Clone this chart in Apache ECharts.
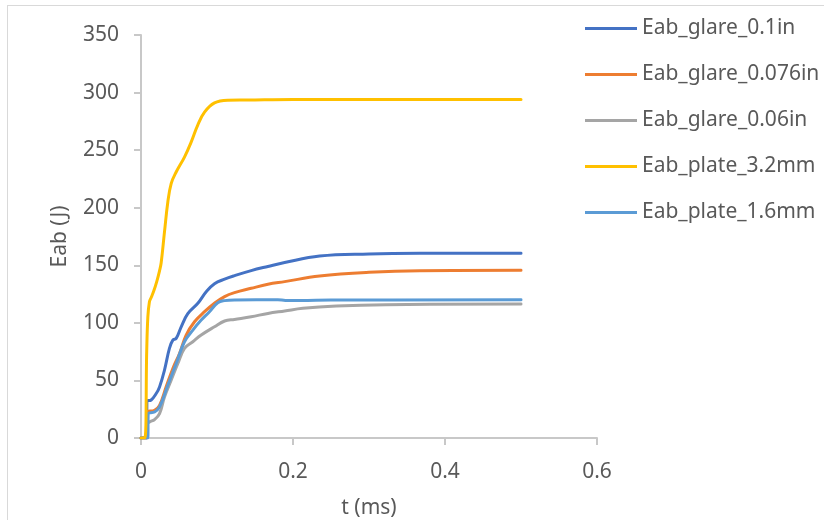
<!DOCTYPE html>
<html>
<head>
<meta charset="utf-8">
<script src="https://cdn.jsdelivr.net/npm/echarts@6/dist/echarts.min.js"></script>
<style>
  html, body { margin: 0; padding: 0; background: #fff; overflow: hidden; }
  #frame { position: absolute; left: 7px; top: 5px; width: 1000px; height: 1000px; border: 1px solid #D9D9D9; box-sizing: border-box; }
  #chart { position: absolute; left: 0; top: 0; width: 824px; height: 520px; }
</style>
</head>
<body>
<div id="frame"></div>
<div id="chart"></div>
<script>
// Series names
const seriesNames = ['Eab_glare_0.1in', 'Eab_glare_0.076in', 'Eab_glare_0.06in', 'Eab_plate_3.2mm', 'Eab_plate_1.6mm'];

// Eab_glare_0.1in : time (ms) and Eab (J)
const tGlare01 = [0, 0.0075, 0.0078, 0.0134, 0.020, 0.0244, 0.0309, 0.0375, 0.0419, 0.0463, 0.0529, 0.0616, 0.0748, 0.0858, 0.0967, 0.110, 0.123, 0.145, 0.167, 0.189, 0.235, 0.30, 0.367, 0.5];
const eGlare01 = [0, 0, 32, 33, 38.6, 44.4, 59, 78, 85, 86.5, 96.6, 108, 117, 127, 134, 138, 141, 145.4, 149, 152.4, 158, 159.8, 160.4, 160.5];

// Eab_glare_0.076in
const tGlare076 = [0, 0.0075, 0.0078, 0.0178, 0.0244, 0.0331, 0.0419, 0.0507, 0.0594, 0.0704, 0.0836, 0.0967, 0.110, 0.123, 0.145, 0.167, 0.189, 0.235, 0.30, 0.367, 0.5];
const eGlare076 = [0, 0, 22.6, 24.1, 28.4, 44.4, 60.4, 73.4, 89.4, 101, 109.7, 117, 122.8, 126.2, 130, 133.5, 135.8, 140.7, 143.9, 145.3, 145.6];

// Eab_glare_0.06in
const tGlare006 = [0, 0.0078, 0.0085, 0.0112, 0.0178, 0.0244, 0.0309, 0.0397, 0.0485, 0.0572, 0.0682, 0.0792, 0.0967, 0.110, 0.123, 0.145, 0.167, 0.189, 0.213, 0.257, 0.322, 0.5];
const eGlare006 = [0, 0, 12, 13.9, 16, 21.2, 35.7, 50.2, 64.7, 77.8, 83.6, 89.4, 96.6, 101.6, 103, 105.3, 108.2, 110.3, 112.6, 114.6, 115.8, 116.4];

// Eab_plate_3.2mm
const tPlate32 = [0, 0.005, 0.0075, 0.009, 0.011, 0.0134, 0.017, 0.0208, 0.0243, 0.0265, 0.0309, 0.0353, 0.0397, 0.0463, 0.0572, 0.066, 0.0748, 0.0836, 0.0967, 0.114, 0.14, 0.2, 0.3, 0.4, 0.5];
const ePlate32 = [0, 0, 75, 105, 118, 122, 128, 136, 145, 152, 179, 205, 221, 231, 244, 257, 272, 283, 291, 293.3, 293.5, 294, 294, 294, 294];

// Eab_plate_1.6mm
const tPlate16 = [0, 0.009, 0.0095, 0.0178, 0.0244, 0.0353, 0.0463, 0.0572, 0.0682, 0.0792, 0.0901, 0.101, 0.110, 0.123, 0.18, 0.19, 0.21, 0.25, 0.5];
const ePlate16 = [0, 0, 21.2, 22.6, 27, 45.9, 64.7, 83.6, 93.7, 102.4, 109.7, 117.5, 119.3, 119.9, 120, 119.5, 119.4, 119.9, 120];

// Axis ticks
const xTicks = [0, 0.2, 0.4, 0.6];
const yTicks = [0, 50, 100, 150, 200, 250, 300, 350];

const colors = ['#4472C4', '#ED7D31', '#A5A5A5', '#FFC000', '#5B9BD5'];
const tList = [tGlare01, tGlare076, tGlare006, tPlate32, tPlate16];
const eList = [eGlare01, eGlare076, eGlare006, ePlate32, ePlate16];

const FONT = 'Noto Sans';
const chart = echarts.init(document.getElementById('chart'), null, { renderer: 'canvas' });

const series = seriesNames.map((name, i) => ({
  name: name,
  type: 'line',
  data: tList[i].map((t, j) => [t, eList[i][j]]),
  showSymbol: false,
  symbol: 'none',
  smooth: 0.4,
  lineStyle: { color: colors[i], width: 3, cap: 'round', join: 'round' },
  itemStyle: { color: colors[i] },
  z: i === 3 ? 3 : 2
}));

chart.setOption({
  animation: false,
  backgroundColor: 'transparent',
  textStyle: { fontFamily: FONT },
  grid: { left: 141, right: 227, top: 35, bottom: 82, containLabel: false, outerBoundsMode: 'none' },
  legend: {
    orient: 'vertical',
    left: 585,
    top: 18,
    padding: 0,
    itemWidth: 52,
    itemHeight: 22,
    itemGap: 25,
    icon: 'path://M0,0 L52,0 L52,3 L0,3 Z',
    data: seriesNames.map((n, i) => ({ name: n, itemStyle: { color: colors[i] } })),
    textStyle: { fontFamily: FONT, fontSize: 21, color: '#595959', padding: [0, 0, 0, 0] },
    itemStyle: { borderWidth: 0 }
  },
  xAxis: {
    type: 'value',
    min: xTicks[0],
    max: xTicks[xTicks.length - 1],
    interval: 0.2,
    name: 't (ms)',
    nameLocation: 'middle',
    nameGap: 60,
    nameTextStyle: { fontFamily: FONT, fontSize: 21, color: '#595959' },
    axisLine: { show: true, lineStyle: { color: '#C8C8C8', width: 2 } },
    axisTick: { show: true, length: 7, lineStyle: { color: '#C8C8C8', width: 2 } },
    axisLabel: { margin: 24, fontFamily: FONT, fontSize: 21, color: '#595959', formatter: v => String(+v.toFixed(1)) },
    splitLine: { show: false }
  },
  yAxis: {
    type: 'value',
    min: yTicks[0],
    max: yTicks[yTicks.length - 1],
    interval: 50,
    name: 'Eab (J)',
    nameLocation: 'middle',
    nameGap: 70,
    nameTextStyle: { fontFamily: FONT, fontSize: 21, color: '#595959' },
    axisLine: { show: true, lineStyle: { color: '#C8C8C8', width: 2 } },
    axisTick: { show: true, length: 7, lineStyle: { color: '#C8C8C8', width: 2 } },
    axisLabel: { margin: 22, fontFamily: FONT, fontSize: 21, color: '#595959' },
    splitLine: { show: false }
  },
  series: series
});
</script>
</body>
</html>
